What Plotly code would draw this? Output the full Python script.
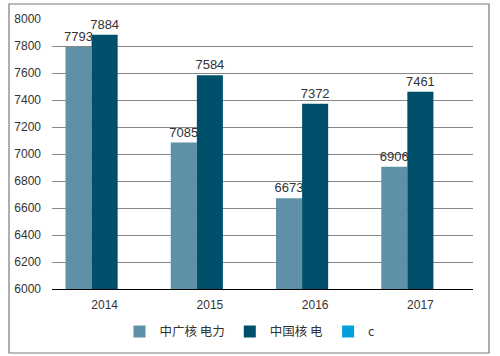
import plotly.graph_objects as go

years = ["2014", "2015", "2016", "2017"]
cgn_power = [7793, 7085, 6673, 6906]
cnnp_power = [7884, 7584, 7372, 7461]
series_c = [None, None, None, None]

names = ["中广核 电力", "中国核 电", "c"]
colors = ["#5E90A7", "#00506B", "#00A0DC"]

font_family = "Liberation Sans, Arial, Noto Sans CJK SC, sans-serif"

fig = go.Figure()
for name, vals, col in zip(names, [cgn_power, cnnp_power, series_c], colors):
    fig.add_trace(go.Bar(
        x=years, y=vals, name=name, marker=dict(color=col, line=dict(width=0)),
        text=[("" if v is None else str(v)) for v in vals],
        textposition="outside", cliponaxis=False, constraintext="none",
        textfont=dict(size=13, color="#333333", family=font_family),
    ))

fig.update_layout(
    width=500, height=356,
    margin=dict(l=52, r=27, t=19, b=67, autoexpand=False),
    paper_bgcolor="white", plot_bgcolor="white",
    barmode="group", bargap=0.257, bargroupgap=0,
    font=dict(family=font_family, size=12, color="#333333"),
    showlegend=True,
    legend=dict(orientation="h", xref="container", yref="container",
                x=0.5, xanchor="center", y=0.068, yanchor="middle",
                font=dict(size=12.5, family="Noto Sans CJK SC, Liberation Sans, sans-serif"),
                itemwidth=30, traceorder="normal", bgcolor="rgba(0,0,0,0)"),
    xaxis=dict(type="category", showline=True, linecolor="#000000", linewidth=1,
               ticks="", showgrid=False, ticklabelstandoff=5, automargin=False,
               tickfont=dict(size=12, color="#333333")),
    yaxis=dict(range=[6000, 8000], dtick=200, showgrid=True, gridcolor="#878787",
               gridwidth=1, zeroline=False, showline=False, ticks="", automargin=False,
               ticklabelstandoff=10, tickfont=dict(size=12, color="#333333")),
    shapes=[dict(type="rect", xref="paper", yref="paper",
                 x0=-0.1021, x1=1.038, y0=-0.237, y1=1.0556,
                 line=dict(color="#7A7A7A", width=1.2),
                 layer="above")],
)

fig.write_html("out.html",
               config={"displayModeBar": False},
               post_script="document.body.style.margin='0';document.body.style.padding='0';")
